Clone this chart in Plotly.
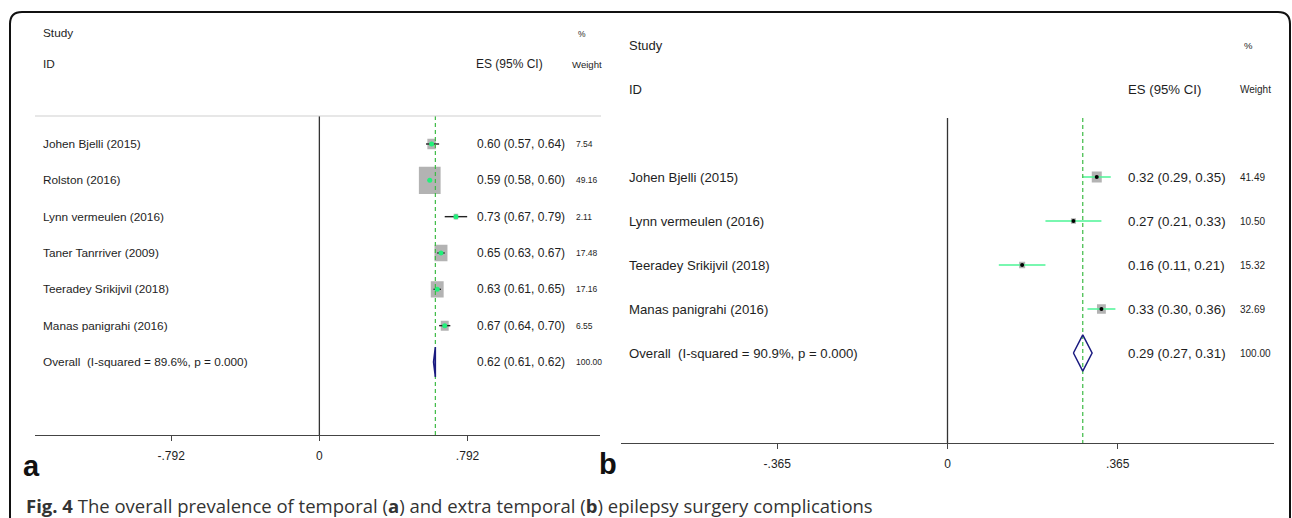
import math
import plotly.graph_objects as go

W, H = 1292, 518

# ---------------- data: panel a (temporal) ----------------
a_studies = ["Johen Bjelli (2015)", "Rolston (2016)", "Lynn vermeulen (2016)",
             "Taner Tanrriver (2009)", "Teeradey Srikijvil (2018)", "Manas panigrahi (2016)"]
a_es = [0.60, 0.59, 0.73, 0.65, 0.63, 0.67]
a_lo = [0.57, 0.58, 0.67, 0.63, 0.61, 0.64]
a_hi = [0.64, 0.60, 0.79, 0.67, 0.65, 0.70]
a_wt = [7.54, 49.16, 2.11, 17.48, 17.16, 6.55]
a_overall_es, a_overall_lo, a_overall_hi = 0.62, 0.61, 0.62
a_overall_label = "Overall  (I-squared = 89.6%, p = 0.000)"
a_tickvals = [-0.792, 0, 0.792]
a_ticktext = ["-.792", "0", ".792"]

# ---------------- data: panel b (extra temporal) ----------------
b_studies = ["Johen Bjelli (2015)", "Lynn vermeulen (2016)",
             "Teeradey Srikijvil (2018)", "Manas panigrahi (2016)"]
b_es = [0.32, 0.27, 0.16, 0.33]
b_lo = [0.29, 0.21, 0.11, 0.30]
b_hi = [0.35, 0.33, 0.21, 0.36]
b_wt = [41.49, 10.50, 15.32, 32.69]
b_overall_es, b_overall_lo, b_overall_hi = 0.29, 0.27, 0.31
b_overall_label = "Overall  (I-squared = 90.9%, p = 0.000)"
b_tickvals = [-0.365, 0, 0.365]
b_ticktext = ["-.365", "0", ".365"]

caption = ("<b>Fig. 4</b> The overall prevalence of temporal (<b>a</b>) and extra temporal "
           "(<b>b</b>) epilepsy surgery complications")

# ---------------- layout geometry (pixels) ----------------
FONT = "Liberation Sans, Arial, sans-serif"
TXT = "#1e1e1e"
BOX = "#b3b3b3"
NAVY = "#1b1b80"
DASH_GREEN = "#3dbb45"

A = dict(x0=35, x1=600, xr=(-1.52, 1.50), y0=116, y1=435, row0=144, drow=36.33)
B = dict(x0=621, x1=1274, xr=(-0.70, 0.70), y0=118, y1=443, row0=177, drow=44.0)


def px(x):
    return x / W


def py(y):
    return 1 - y / H


def yrange(p):
    top = (p["y0"] - p["row0"]) / p["drow"]
    bot = (p["y1"] - p["row0"]) / p["drow"]
    return [bot, top]


def ppu(p):
    return (p["x1"] - p["x0"]) / (p["xr"][1] - p["xr"][0])


def boxes(es, wt, p, kx, ky):
    xs, ys = [], []
    ux = ppu(p)
    for i, (e, w) in enumerate(zip(es, wt)):
        hw = 0.5 * kx * math.sqrt(w) / ux
        hh = 0.5 * ky * math.sqrt(w) / p["drow"]
        xs += [e - hw, e + hw, e + hw, e - hw, e - hw, None]
        ys += [i - hh, i - hh, i + hh, i + hh, i - hh, None]
    return xs, ys


def ci_lines(lo, hi):
    xs, ys = [], []
    for i, (l, h) in enumerate(zip(lo, hi)):
        xs += [l, h, None]
        ys += [i, i, None]
    return xs, ys


def diamond(es, lo, hi, row, half=0.41):
    return [lo, es, hi, es, lo], [row, row - half, row, row + half, row]


fig = go.Figure()

# ---- panel a marks ----
bx, by = boxes(a_es, a_wt, A, 3.1, 3.9)
fig.add_trace(go.Scatter(x=bx, y=by, fill="toself", fillcolor=BOX, mode="none",
                         xaxis="x", yaxis="y", hoverinfo="skip"))
cx, cy = ci_lines(a_lo, a_hi)
fig.add_trace(go.Scatter(x=cx, y=cy, mode="lines", line=dict(color="#222222", width=1.4),
                         xaxis="x", yaxis="y"))
fig.add_trace(go.Scatter(x=a_es, y=list(range(len(a_es))), mode="markers",
                         marker=dict(color="#22f07a", size=5, symbol="circle"),
                         xaxis="x", yaxis="y"))
ar = yrange(A)
fig.add_trace(go.Scatter(x=[a_overall_es, a_overall_es], y=[ar[1], ar[0]], mode="lines",
                         line=dict(color=DASH_GREEN, width=1.2, dash="4px,3px"),
                         xaxis="x", yaxis="y"))
dx, dy = diamond(a_overall_es, a_overall_lo, a_overall_hi, len(a_es))
fig.add_trace(go.Scatter(x=dx, y=dy, mode="lines", fill="toself", fillcolor="rgba(90,90,210,0.45)",
                         line=dict(color=NAVY, width=1.5), xaxis="x", yaxis="y"))

# ---- panel b marks ----
bx, by = boxes(b_es, b_wt, B, 1.55, 1.7)
fig.add_trace(go.Scatter(x=bx, y=by, fill="toself", fillcolor=BOX, mode="none",
                         xaxis="x2", yaxis="y2", hoverinfo="skip"))
cx, cy = ci_lines(b_lo, b_hi)
fig.add_trace(go.Scatter(x=cx, y=cy, mode="lines", line=dict(color="#4cf596", width=1.5),
                         xaxis="x2", yaxis="y2"))
fig.add_trace(go.Scatter(x=b_es, y=list(range(len(b_es))), mode="markers",
                         marker=dict(color="#000000", size=4, symbol="circle"),
                         xaxis="x2", yaxis="y2"))
br = yrange(B)
fig.add_trace(go.Scatter(x=[b_overall_es, b_overall_es], y=[br[1], br[0]], mode="lines",
                         line=dict(color=DASH_GREEN, width=1.2, dash="4px,3px"),
                         xaxis="x2", yaxis="y2"))
dx, dy = diamond(b_overall_es, b_overall_lo, b_overall_hi, len(b_es))
fig.add_trace(go.Scatter(x=dx, y=dy, mode="lines", line=dict(color=NAVY, width=1.5),
                         xaxis="x2", yaxis="y2"))

# ---- text annotations ----
ann = []


def label(x, y, text, size, yref="paper", anchor="left", color=TXT, family=FONT):
    ann.append(dict(x=px(x), y=(py(y) if yref == "paper" else y), xref="paper", yref=yref,
                    text=text, showarrow=False, xanchor=anchor, yanchor="middle",
                    font=dict(family=family, size=size, color=color)))


# panel a text
label(41, 33, "Study", 11.8)
label(41, 64, "ID", 11.8)
label(474, 64, "ES (95% CI)", 12)
label(576, 34, "%", 8.5)
label(570, 65, "Weight", 9.6)
for i, s in enumerate(a_studies + [a_overall_label]):
    label(41, i, s, 11.8, yref="y")
a_rows = list(zip(a_es, a_lo, a_hi, a_wt)) + [(a_overall_es, a_overall_lo, a_overall_hi, 100.0)]
for i, (e, l, h, w) in enumerate(a_rows):
    label(475, i, f"{e:.2f} ({l:.2f}, {h:.2f})", 12, yref="y")
    label(574, i, f"{w:.2f}", 8.5, yref="y")

# panel b text
label(627, 45, "Study", 13)
label(627, 89, "ID", 13)
label(1126, 89, "ES (95% CI)", 13.2)
label(1242, 45, "%", 9.5)
label(1238, 89, "Weight", 10)
for i, s in enumerate(b_studies + [b_overall_label]):
    label(627, i, s, 13.2, yref="y2")
b_rows = list(zip(b_es, b_lo, b_hi, b_wt)) + [(b_overall_es, b_overall_lo, b_overall_hi, 100.0)]
for i, (e, l, h, w) in enumerate(b_rows):
    label(1126, i, f"{e:.2f} ({l:.2f}, {h:.2f})", 13.3, yref="y2")
    label(1238, i, f"{w:.2f}", 10, yref="y2")

# panel letters and caption
label(21, 466, "<b>a</b>", 29, family="Liberation Sans, Arial, sans-serif", color="#111111")
label(597, 464, "<b>b</b>", 29, family="Liberation Sans, Arial, sans-serif", color="#111111")
label(24, 505, caption, 18.5, family="Open Sans, Noto Sans, sans-serif", color="#333333")

# ---- structural lines ----
shapes = [
    # zero reference lines
    dict(type="line", xref="x", yref="y domain", x0=0, x1=0, y0=0, y1=1,
         line=dict(color="#333333", width=1.3)),
    dict(type="line", xref="x2", yref="y2 domain", x0=0, x1=0, y0=0, y1=1,
         line=dict(color="#333333", width=1.3)),
    # top rule of panel a
    dict(type="line", xref="paper", yref="paper", x0=px(35), x1=px(601), y0=py(116), y1=py(116),
         line=dict(color="#cfcfcf", width=1.2)),
    # outer rounded frame
    dict(type="path", xref="paper", yref="paper",
         path=(f"M {px(10)},{py(520)} L {px(10)},{py(24)} Q {px(10)},{py(12)} {px(22)},{py(12)} "
               f"L {px(1278)},{py(12)} Q {px(1290)},{py(12)} {px(1290)},{py(24)} L {px(1290)},{py(520)}"),
         line=dict(color="#111111", width=2)),
]


def xaxis(p, tv, tt, anchor):
    return dict(domain=[px(p["x0"]), px(p["x1"])], range=list(p["xr"]), anchor=anchor,
                showgrid=False, zeroline=False, showline=True, linecolor="#444444", linewidth=1.3,
                ticks="outside", ticklen=5, tickwidth=1.2, tickcolor="#444444",
                tickvals=tv, ticktext=tt, ticklabelstandoff=4,
                tickfont=dict(family=FONT, size=12, color=TXT), fixedrange=True)


def yaxis(p, anchor):
    return dict(domain=[py(p["y1"]), py(p["y0"])], range=yrange(p), anchor=anchor,
                visible=False, showgrid=False, zeroline=False, fixedrange=True)


fig.update_layout(
    width=W, height=H, margin=dict(l=0, r=0, t=0, b=0),
    paper_bgcolor="white", plot_bgcolor="rgba(0,0,0,0)", showlegend=False,
    xaxis=xaxis(A, a_tickvals, a_ticktext, "y"),
    yaxis=yaxis(A, "x"),
    xaxis2=xaxis(B, b_tickvals, b_ticktext, "y2"),
    yaxis2=yaxis(B, "x2"),
    annotations=ann, shapes=shapes,
)

fig.write_html("out.html")
